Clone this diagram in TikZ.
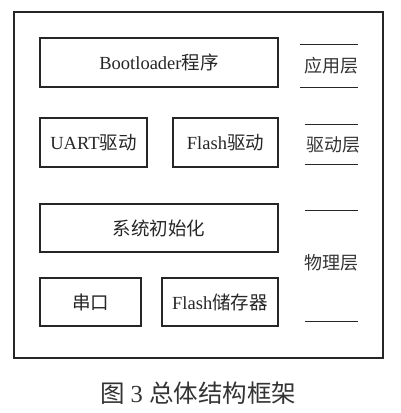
\documentclass[tikz,border=0pt]{standalone}
\usepackage{fontspec}
\setmainfont{Liberation Serif}
\newfontfamily\cjk{Noto Sans CJK SC}
\begin{document}
\begin{tikzpicture}[x=1pt,y=-1pt,
  blk/.style={draw=black!85,line width=1.1pt,inner sep=0pt,anchor=center,text=black!85,font=\fontsize{18.5}{22}\selectfont},
  lay/.style={inner sep=0pt,anchor=center,text=black!80,font=\fontsize{18}{22}\selectfont\cjk},
  sep/.style={draw=black!85,line width=1pt}]
\useasboundingbox (0,0) rectangle (400,413);
\node[draw=black!85,line width=1.4pt,minimum width=369pt,minimum height=346pt,inner sep=0pt] (outer) at (198.5,185) {};
\node[blk,minimum width=238pt,minimum height=49pt] (boot) at (159,62.5) {Bootloader{\cjk 程序}};
\node[blk,minimum width=107pt,minimum height=49pt] (uart) at (93.5,142.5) {UART{\cjk 驱动}};
\node[blk,minimum width=105pt,minimum height=49pt] (flashdrv) at (225.5,142.5) {Flash{\cjk 驱动}};
\node[blk,minimum width=238pt,minimum height=48pt] (init) at (159,228) {\cjk 系统初始化};
\node[blk,minimum width=101pt,minimum height=48pt] (serial) at (90.5,302) {\cjk 串口};
\node[blk,minimum width=116pt,minimum height=48pt] (flashmem) at (220,302) {Flash{\cjk 储存器}};
\node[lay] (app) at (331,66) {应用层};
\node[lay] (drv) at (333,145) {驱动层};
\node[lay] (phy) at (331,263) {物理层};
\coordinate (a1) at (300,44); \coordinate (a2) at (358,44);
\coordinate (a3) at (300,87); \coordinate (a4) at (358,87);
\coordinate (d1) at (305,124); \coordinate (d2) at (358,124);
\coordinate (d3) at (305,164); \coordinate (d4) at (358,164);
\coordinate (p1) at (305,210); \coordinate (p2) at (358,210);
\coordinate (p3) at (305,321); \coordinate (p4) at (358,321);
\draw[sep] (a1) -- (a2); \draw[sep] (a3) -- (a4);
\draw[sep] (d1) -- (d2); \draw[sep] (d3) -- (d4);
\draw[sep] (p1) -- (p2); \draw[sep] (p3) -- (p4);
\node[inner sep=0pt,text=black!80,font=\fontsize{24.5}{28}\selectfont] (cap) at (198,393) {{\cjk 图} 3 {\cjk 总体结构框架}};
\end{tikzpicture}
\end{document}
